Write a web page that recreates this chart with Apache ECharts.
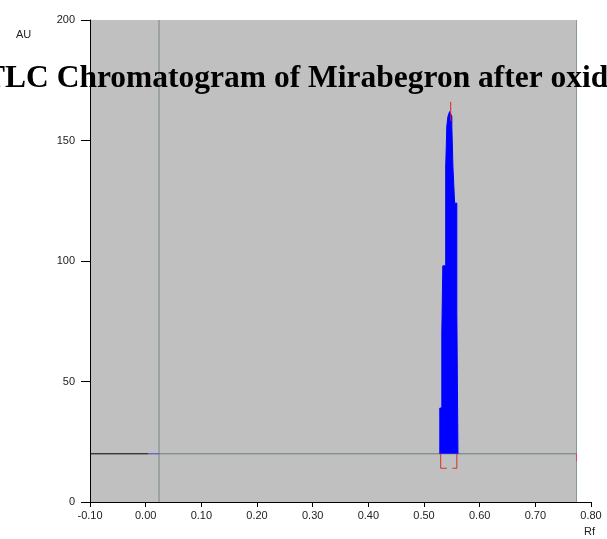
<!DOCTYPE html>
<html>
<head>
<meta charset="utf-8">
<script src="https://cdn.jsdelivr.net/npm/echarts@6/dist/echarts.min.js"></script>
<style>
  html, body { margin: 0; padding: 0; background: #fff; }
  #chart { width: 607px; height: 539px; }
</style>
</head>
<body>
<div id="chart"></div>
<script>
// Rf / AU
const peakRf = [0.5284, 0.5284, 0.532, 0.532, 0.5338, 0.5338, 0.539, 0.539, 0.541, 0.541, 0.543, 0.543, 0.546, 0.550, 0.550, 0.552, 0.552, 0.555, 0.555, 0.559, 0.559, 0.561, 0.561];
const peakAU = [20, 39, 39, 70, 70, 98, 98, 139, 139, 156, 156, 160, 162, 160, 156, 156, 139, 139, 124, 124, 78, 78, 20];
const baselineAU = 20;
const startRf = -0.1;
const originRf = 0.024;   // application line
const frontRf = 0.774;    // end of scan
const peakTopRf = 0.548;
const peakTopAU = [158, 166];
const leftBracket = [[0.530, 20], [0.530, 14], [0.541, 14]];
const rightBracket = [[0.551, 14], [0.559, 14], [0.559, 20]];

const chart = echarts.init(document.getElementById('chart'));

const lbl = { color: '#222', fontSize: 11, fontFamily: 'Liberation Sans, Arial, sans-serif' };

function seg(points, color, z) {
  return {
    type: 'line', data: points, symbol: 'none', silent: true, z: z || 3,
    lineStyle: { color: color, width: 1 }
  };
}

const option = {
  animation: false,
  title: {
    text: 'TLC Chromatogram of Mirabegron after oxidation',
    left: -16, top: 63, padding: 0, z: 20,
    textStyle: { fontFamily: 'Liberation Serif, Times New Roman, serif', fontWeight: 'bold', fontSize: 31.5, color: '#000' }
  },
  grid: { left: 90, right: 16, top: 20, bottom: 37 },
  xAxis: {
    type: 'value', min: -0.1, max: 0.8, interval: 0.1, z: 10,
    axisLine: { show: true, onZero: false, lineStyle: { color: '#000', width: 1 } },
    axisTick: { show: true, length: 5, lineStyle: { color: '#000' } },
    axisLabel: Object.assign({ margin: 8, formatter: v => v.toFixed(2) }, lbl),
    splitLine: { show: false }
  },
  yAxis: {
    type: 'value', min: 0, max: 200, interval: 50, z: 10,
    axisLine: { show: true, onZero: false, lineStyle: { color: '#000', width: 1 } },
    axisTick: { show: true, length: 9, lineStyle: { color: '#000' } },
    axisLabel: Object.assign({ margin: 15 }, lbl),
    splitLine: { show: false }
  },
  graphic: [
    { type: 'text', left: 16, top: 29, style: { text: 'AU', fill: '#222', font: '11px Liberation Sans, Arial, sans-serif' } },
    { type: 'text', left: 584, top: 526, style: { text: 'Rf', fill: '#222', font: '11px Liberation Sans, Arial, sans-serif' } }
  ],
  series: [
    {
      type: 'line', data: [], silent: true, z: 1,
      markArea: {
        silent: true,
        itemStyle: { color: '#c0c0c0' },
        data: [[{ coord: [startRf, 0] }, { coord: [frontRf, 200] }]]
      }
    },
    seg([[frontRf, 0], [frontRf, 200]], '#8a9898'),
    seg([[originRf, 0], [originRf, 200]], '#778888'),
    seg([[originRf, baselineAU], [frontRf, baselineAU]], '#6c7c7c'),
    seg([[startRf, baselineAU], [0.005, baselineAU]], '#000'),
    seg([[0.005, baselineAU], [originRf, baselineAU]], '#4040d0'),
    {
      type: 'line', symbol: 'none', silent: true, z: 4,
      data: peakRf.map((r, i) => [r, peakAU[i]]),
      lineStyle: { color: '#0000ff', width: 1 },
      areaStyle: { color: '#0000ff', opacity: 1, origin: baselineAU }
    },
    seg([[peakTopRf, peakTopAU[0]], [peakTopRf, peakTopAU[1]]], '#e02020', 5),
    seg(leftBracket, '#d03030', 5),
    seg(rightBracket, '#d03030', 5),
    seg([[frontRf, 17], [frontRf, baselineAU]], '#e04060', 5)
  ]
};

chart.setOption(option);
</script>
</body>
</html>
